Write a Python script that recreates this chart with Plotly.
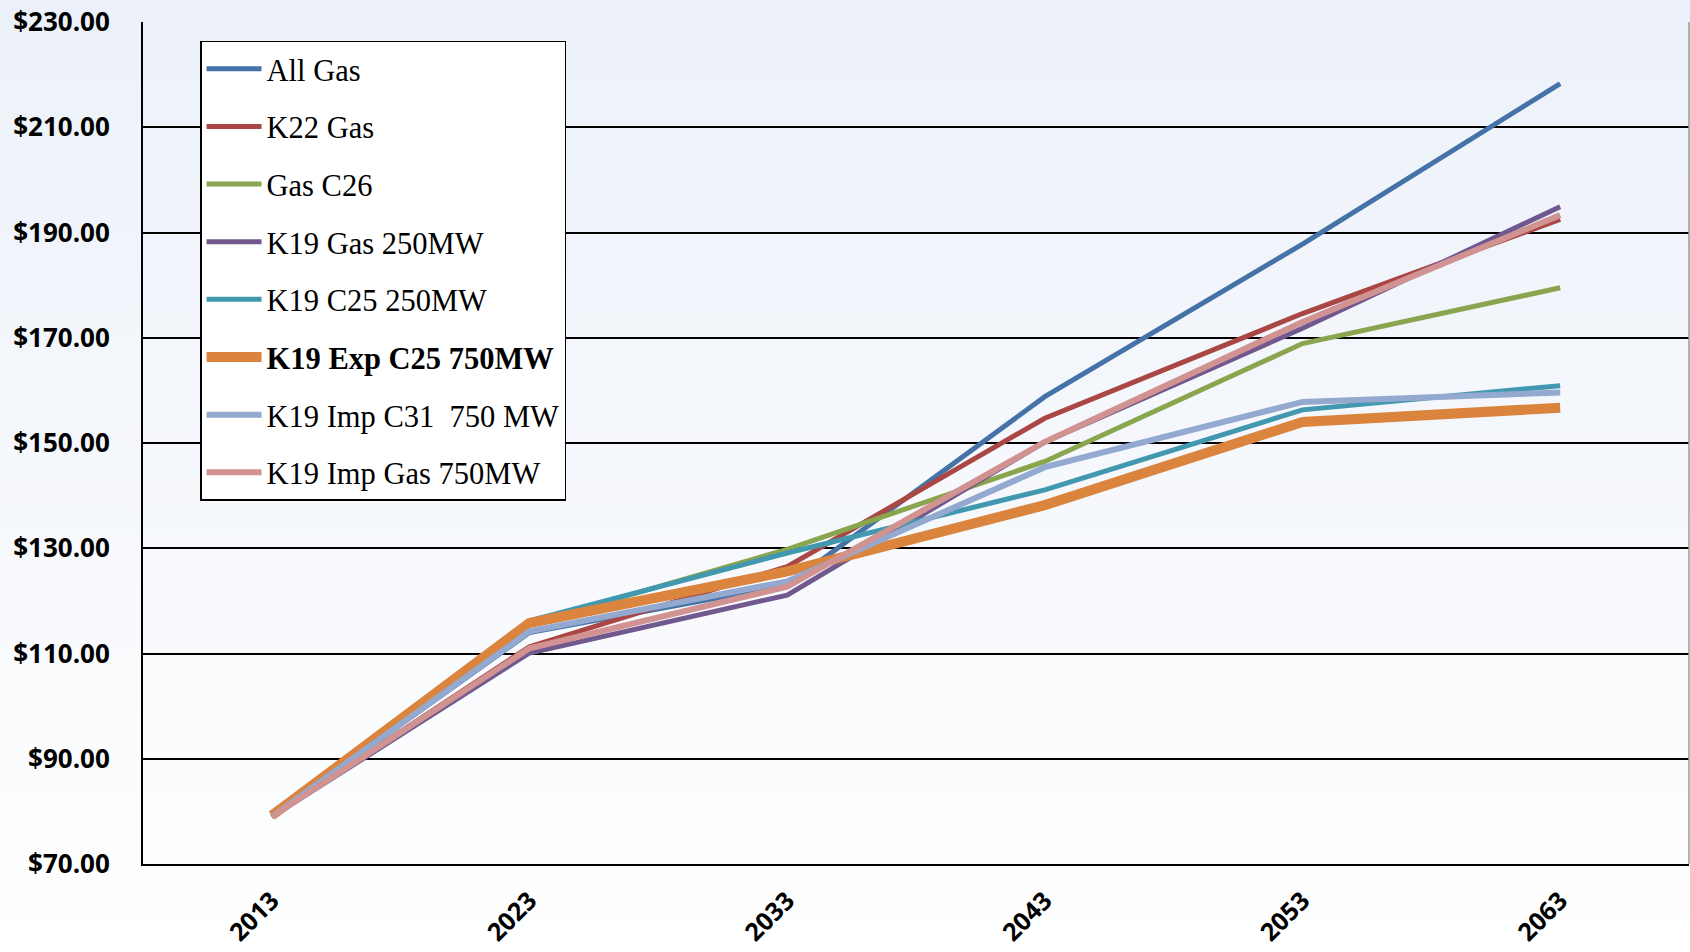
import plotly.graph_objects as go

# Projected cost per scenario ($), one value per study year
years = ["2013", "2023", "2033", "2043", "2053", "2063"]

all_gas = [79.0, 114.0, 123.0, 158.8, 187.8, 218.3]
k22_gas = [79.0, 111.3, 126.5, 154.7, 174.6, 192.5]
gas_c26 = [79.0, 115.6, 129.8, 146.5, 168.9, 179.5]
k19_gas_250 = [79.0, 110.1, 121.1, 150.2, 171.8, 194.9]
k19_c25_250 = [79.0, 116.2, 129.1, 141.1, 156.3, 160.9]
k19_exp_c25_750 = [79.2, 115.8, 125.6, 138.2, 154.0, 156.7]
k19_imp_c31_750 = [79.0, 114.2, 123.7, 145.4, 157.8, 159.6]
k19_imp_gas_750 = [79.0, 111.0, 122.7, 150.2, 173.0, 193.3]

series_names = [
    "All Gas", "K22 Gas", "Gas C26", "K19 Gas 250MW", "K19 C25 250MW",
    "<b>K19 Exp C25 750MW</b>", "K19 Imp C31  750 MW", "K19 Imp Gas 750MW",
]
series_values = [
    all_gas, k22_gas, gas_c26, k19_gas_250, k19_c25_250,
    k19_exp_c25_750, k19_imp_c31_750, k19_imp_gas_750,
]
series_colors = [
    "#4572A7", "#AA4643", "#89A54E", "#71588F", "#4198AF",
    "#DB843D", "#93A9CF", "#D19392",
]
series_widths = [5, 5, 5, 5, 5, 10, 6, 6]

fig = go.Figure()
for i, (name, vals, col, w) in enumerate(
        zip(series_names, series_values, series_colors, series_widths)):
    fig.add_trace(go.Scatter(
        x=years, y=vals, name=name, mode="lines",
        line=dict(color=col, width=w),
        legendgroup=f"g{i}",
    ))

# Soft vertical gradient behind the whole figure
shapes = []
n_bands = 90
top_rgb = (236, 241, 249)
bot_rgb = (255, 255, 255)
y_lo, y_hi = -0.115, 1.03
for k in range(n_bands):
    t = k / (n_bands - 1)
    r = round(bot_rgb[0] + (top_rgb[0] - bot_rgb[0]) * t)
    g = round(bot_rgb[1] + (top_rgb[1] - bot_rgb[1]) * t)
    b = round(bot_rgb[2] + (top_rgb[2] - bot_rgb[2]) * t)
    y0 = y_lo + (y_hi - y_lo) * k / n_bands
    y1 = y_lo + (y_hi - y_lo) * (k + 1.6) / n_bands
    shapes.append(dict(
        type="rect", xref="paper", yref="paper",
        x0=-0.1, x1=1.01, y0=y0, y1=min(y1, y_hi),
        fillcolor=f"rgb({r},{g},{b})", line=dict(width=0), layer="below",
    ))
# thin grey frame on the right side of the plot area
shapes.append(dict(
    type="line", xref="paper", yref="paper", x0=1, x1=1, y0=0, y1=1,
    line=dict(color="#9a9a9a", width=1.5),
))

tick_font = dict(family="Open Sans", size=26, color="black", weight="bold")
xtick_font = dict(family="Open Sans", size=25, color="black", weight="bold")

fig.update_layout(
    width=1690, height=952,
    margin=dict(l=143, r=1, t=22, b=88, autoexpand=False),
    paper_bgcolor="white",
    plot_bgcolor="rgba(0,0,0,0)",
    shapes=shapes,
    showlegend=True,
    legend=dict(
        x=0.0369, y=0.9775, xanchor="left", yanchor="top",
        bgcolor="white", bordercolor="black", borderwidth=1.5,
        font=dict(family="Liberation Serif", size=30.5, color="black"),
        itemwidth=55, tracegroupgap=15,
    ),
    xaxis=dict(
        type="category", range=[-0.5, 5.5], automargin=False,
        showgrid=False, showline=True, linecolor="black", linewidth=2,
        ticks="", tickangle=-45, ticklabelstandoff=10,
        tickfont=xtick_font,
        zeroline=False,
    ),
    yaxis=dict(
        range=[70, 230], dtick=20, tick0=70, automargin=False,
        tickprefix="$", tickformat=".2f",
        showgrid=True, gridcolor="black", gridwidth=2,
        showline=True, linecolor="black", linewidth=2,
        ticks="", ticklabelstandoff=26,
        tickfont=tick_font,
        zeroline=False,
    ),
)

fig.write_html("out.html")
